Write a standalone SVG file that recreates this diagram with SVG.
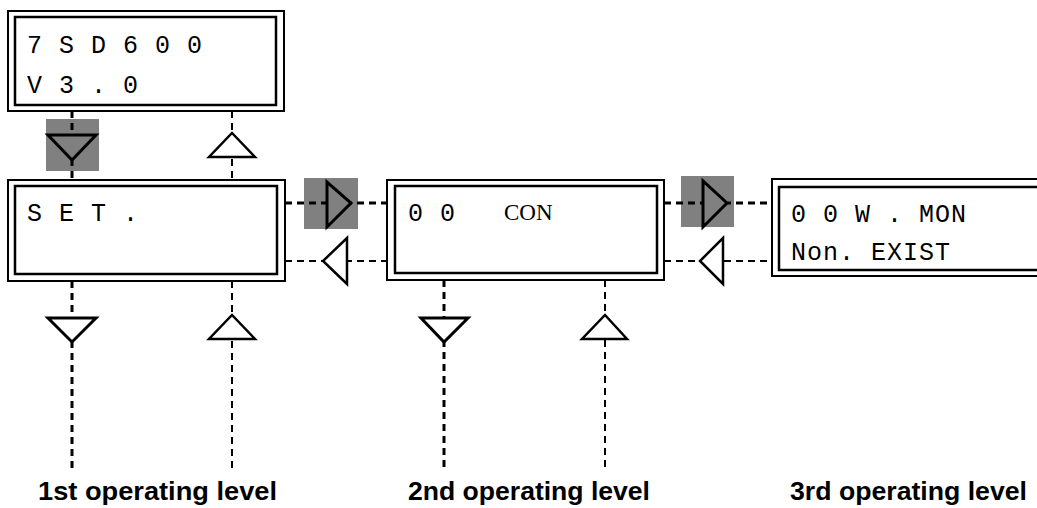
<svg xmlns="http://www.w3.org/2000/svg" width="1037" height="508" viewBox="0 0 1037 508">
<style>
.outer{fill:#fff;stroke:#000;stroke-width:2}
.inner{fill:none;stroke:#000;stroke-width:2.5}
.lcd{font-family:"Liberation Mono",monospace;font-size:25px;letter-spacing:1px;fill:#000}
.serif{font-family:"Liberation Serif",serif;font-size:23px;fill:#000}
.lbl{font-family:"Liberation Sans",Arial,sans-serif;font-weight:bold;font-size:25px;fill:#000}
.db{stroke:#000;stroke-width:3;stroke-dasharray:7 5;fill:none}
.dt{stroke:#000;stroke-width:2;stroke-dasharray:7 5;fill:none}
.hl{fill:#808080}
.tw{fill:#fff;stroke:#000;stroke-width:2.5;stroke-linejoin:miter}
.tg{fill:#808080;stroke:#000;stroke-width:3;stroke-linejoin:miter}
.tb{fill:#fff;stroke:#000;stroke-width:3;stroke-linejoin:miter}
</style>
<rect width="1037" height="508" fill="#fff"/>
<g id="connectors">
  <rect class="hl" x="46" y="119" width="53" height="52"/>
  <rect class="hl" x="304" y="178" width="54" height="51"/>
  <rect class="hl" x="681" y="176" width="53" height="51"/>
  <line class="db" x1="72" y1="111" x2="72" y2="180"/>
  <line class="dt" x1="232" y1="111" x2="232" y2="180"/>
  <line class="db" x1="72" y1="281" x2="72" y2="468"/>
  <line class="dt" x1="232" y1="281" x2="232" y2="468"/>
  <line class="db" x1="444" y1="280" x2="444" y2="468"/>
  <line class="dt" x1="605" y1="280" x2="605" y2="468"/>
  <line class="db" x1="285" y1="203" x2="387" y2="203"/>
  <line class="dt" x1="285" y1="261" x2="387" y2="261"/>
  <line class="db" x1="664" y1="203" x2="772" y2="203"/>
  <line class="dt" x1="664" y1="261" x2="772" y2="261"/>
  <polygon class="tg" points="48,135 96,135 72,160"/>
  <polygon class="tw" points="209,157 255,157 232,133"/>
  <polygon class="tb" points="48,318 96,318 72,342"/>
  <polygon class="tw" points="209,339 255,339 232,315"/>
  <polygon class="tb" points="421,318 468,318 444,342"/>
  <polygon class="tw" points="582,339 627,339 605,315"/>
  <polygon class="tg" points="327,182 327,227 351,203"/>
  <polygon class="tw" points="347,238 347,284 323,261"/>
  <polygon class="tg" points="703,181 703,227 727,203"/>
  <polygon class="tw" points="723,238 723,284 700,261"/>
</g>
<g id="box-7sd600">
  <rect class="outer" x="8" y="11" width="276" height="100"/>
  <rect class="inner" x="15" y="17" width="261" height="88"/>
  <text class="lcd" x="27" y="53">7 S D 6 0 0</text>
  <text class="lcd" x="27" y="93">V 3 . 0</text>
</g>
<g id="box-set">
  <rect class="outer" x="8" y="180" width="277" height="101"/>
  <rect class="inner" x="15" y="186" width="262" height="88"/>
  <text class="lcd" x="27" y="221">S E T .</text>
</g>
<g id="box-con">
  <rect class="outer" x="387" y="180" width="277" height="100"/>
  <rect class="inner" x="395" y="186" width="262" height="87"/>
  <text class="lcd" x="408" y="221">0 0</text>
  <text class="serif" x="504" y="220">CON</text>
</g>
<g id="box-wmon">
  <rect class="outer" x="772" y="179" width="280" height="97"/>
  <rect class="inner" x="779" y="187" width="270" height="83"/>
  <text class="lcd" x="791" y="222">0 0 W . MON</text>
  <text class="lcd" x="791" y="260">Non. EXIST</text>
</g>
<g id="labels">
  <text class="lbl" x="38" y="500" textLength="239" lengthAdjust="spacingAndGlyphs">1st operating level</text>
  <text class="lbl" x="408" y="500" textLength="242" lengthAdjust="spacingAndGlyphs">2nd operating level</text>
  <text class="lbl" x="790" y="500" textLength="237" lengthAdjust="spacingAndGlyphs">3rd operating level</text>
</g>
</svg>
